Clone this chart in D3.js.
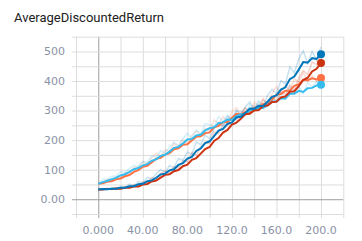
<!DOCTYPE html>
<html>
<head>
<meta charset="utf-8">
<script src="https://cdn.jsdelivr.net/npm/d3@7"></script>
<style>
    body { margin: 0; background: #fff; }
    .title { font-family: Roboto, sans-serif; font-size: 13px; fill: #212121; }
    .tick-label { font-family: "DejaVu Sans", sans-serif; font-size: 11px; fill: #8a92a6; }
</style>
</head>
<body>
<svg id="chart"></svg>
<script>
let width = 362,
    height = 241;

// steps 0..200, every 4
let steps = d3.range(0, 201, 4);

// raw values (one per step)
let rawCyan = [52, 67, 67, 78, 78, 93, 91, 104, 115, 112, 128, 125, 147, 143, 164, 156, 177, 193, 182, 205,
    223, 207, 234, 221, 255, 252, 247, 279, 264, 285, 268, 299, 298, 288, 321, 301, 323, 308, 333, 348,
    331, 359, 339, 381, 358, 381, 357, 394, 379, 398, 390];
let rawOrange = [52, 57, 67, 63, 77, 75, 89, 88, 108, 107, 127, 119, 140, 156, 145, 167, 163, 189, 177, 202,
    189, 217, 231, 215, 240, 230, 269, 256, 279, 262, 296, 310, 284, 307, 292, 329, 312, 341, 321, 358,
    381, 358, 385, 368, 408, 396, 428, 400, 419, 400, 418];
let rawBlue = [33, 36, 33, 39, 35, 44, 39, 51, 45, 60, 55, 74, 68, 86, 100, 91, 114, 107, 138, 132,
    160, 152, 194, 185, 217, 205, 239, 260, 247, 280, 268, 301, 283, 312, 329, 305, 332, 315, 351, 372,
    358, 401, 390, 448, 428, 474, 502, 460, 500, 470, 515];
let rawRed = [33, 33, 38, 34, 39, 34, 43, 39, 50, 43, 59, 55, 73, 68, 87, 97, 87, 110, 105, 131,
    125, 158, 148, 177, 193, 187, 228, 222, 253, 248, 280, 268, 293, 310, 291, 317, 304, 336, 320, 346,
    331, 367, 353, 387, 368, 409, 435, 422, 464, 455, 490];

let seriesNames = ["orange", "cyan", "red", "blue"];
let seriesColors = ["#ff7043", "#33bbee", "#cc3311", "#0077bb"];
let seriesRaw = [rawOrange, rawCyan, rawRed, rawBlue];

let xTicks = [0, 40, 80, 120, 160, 200];
let xTickLabels = ["0.000", "40.00", "80.00", "120.0", "160.0", "200.0"];
let yTicks = [0, 100, 200, 300, 400, 500];
let yTickLabels = ["0.00", "100", "200", "300", "400", "500"];

let smoothing = 0.6;

let x = d3.scaleLinear().domain([-20, 220]).range([76, 343.3]);
let y = d3.scaleLinear().domain([-50, 550]).range([214, 36.7]);

let svg = d3.select('#chart')
    .attr('width', width)
    .attr('height', height);

svg.append('text')
    .attr('class', 'title')
    .attr('x', 14)
    .attr('y', 22)
    .text('AverageDiscountedReturn');

// grid
let g = svg.append('g');

g.selectAll('line.vgrid')
    .data(d3.range(-20, 221, 20))
    .enter().append('line')
    .attr('x1', d => x(d) + 0.5).attr('x2', d => x(d) + 0.5)
    .attr('y1', y(550)).attr('y2', 218)
    .style('stroke', d => d === 0 ? '#9e9e9e' : '#dddddd')
    .style('stroke-width', 1);

g.selectAll('line.hgrid')
    .data(d3.range(-50, 551, 50))
    .enter().append('line')
    .attr('x1', 72).attr('x2', x(220))
    .attr('y1', d => y(d) + 0.5).attr('y2', d => y(d) + 0.5)
    .style('stroke', d => d === 0 ? '#9e9e9e' : '#dddddd')
    .style('stroke-width', 1);

// tick labels
svg.selectAll('text.xlab')
    .data(xTicks)
    .enter().append('text')
    .attr('class', 'tick-label')
    .attr('x', d => x(d))
    .attr('y', 234)
    .attr('text-anchor', 'middle')
    .text((d, i) => xTickLabels[i]);

svg.selectAll('text.ylab')
    .data(yTicks)
    .enter().append('text')
    .attr('class', 'tick-label')
    .attr('x', 65)
    .attr('y', d => y(d))
    .attr('dy', '0.35em')
    .attr('text-anchor', 'end')
    .text((d, i) => yTickLabels[i]);

// exponential moving average, like tensorboard
function smooth(values) {
    let last = values[0];
    return values.map(function(v) {
        last = last * smoothing + (1 - smoothing) * v;
        return last;
    });
}

let line = d3.line()
    .x((d, i) => x(steps[i]))
    .y(d => y(d));

svg.append('clipPath')
    .attr('id', 'clip')
    .append('rect')
    .attr('x', x(-20)).attr('y', y(550))
    .attr('width', x(220) - x(-20))
    .attr('height', y(-50) - y(550));

let plot = svg.append('g').attr('clip-path', 'url(#clip)');

// faint raw lines first
seriesRaw.forEach(function(raw, k) {
    plot.append('path')
        .attr('d', line(raw))
        .style('fill', 'none')
        .style('stroke', seriesColors[k])
        .style('stroke-opacity', 0.22)
        .style('stroke-width', 1.5);
});

// smoothed lines + end dots
seriesRaw.forEach(function(raw, k) {
    let sm = smooth(raw);
    plot.append('path')
        .attr('d', line(sm))
        .style('fill', 'none')
        .style('stroke', seriesColors[k])
        .style('stroke-width', 2);

    svg.append('circle')
        .attr('cx', x(steps[steps.length - 1]))
        .attr('cy', y(sm[sm.length - 1]))
        .attr('r', 4)
        .style('fill', seriesColors[k]);
});
</script>
</body>
</html>
